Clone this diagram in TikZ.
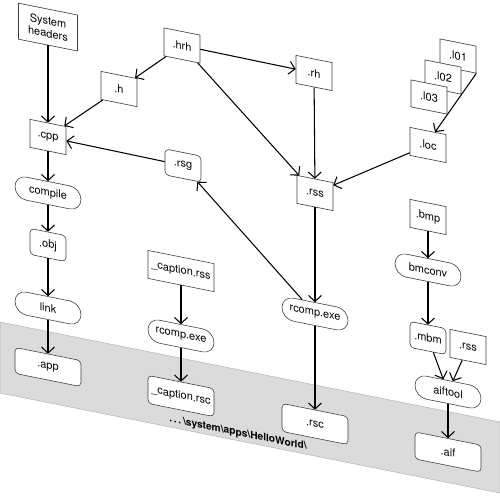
\documentclass[tikz,border=0pt]{standalone}
\usepackage{fontspec}
\setmainfont{TeX Gyre Heros}
\usetikzlibrary{arrows.meta}
\begin{document}
\begin{tikzpicture}[x=1pt,y=1pt,
  box/.style={draw=black!75, line width=0.6pt, fill=white, minimum width=36pt, minimum height=28pt, inner sep=1pt, font=\fontsize{11}{13}\selectfont, align=center},
  wbox/.style={box, minimum width=66pt},
  rbox/.style={box, rounded corners=4pt, minimum height=26pt},
  stad/.style={box, minimum width=66pt, minimum height=23pt, rounded corners=11.5pt},
  arr/.style={-{Straight Barb[length=6pt,width=13pt]}, line width=1.05pt}]
\useasboundingbox (0,0) rectangle (500,-496);
\begin{scope}[yslant=-0.2, transform shape]
  \filldraw[fill=gray!28, draw=gray!60, line width=0.5pt] (0,-322) rectangle (500,-393);
  \node[box, minimum width=59pt, minimum height=36pt] (sysh) at (48,-17.5) {System\\[-0.5pt]headers};
  \node[box] (hrh) at (182,-9.1) {.hrh};
  \node[box] (h) at (119,-65.2) {.h};
  \node[box] (cpp) at (48,-127.4) {.cpp};
  \node[rbox] (rsg) at (183,-128.9) {.rsg};
  \node[stad] (compile) at (48,-183.4) {compile};
  \node[rbox] (obj) at (48,-235.4) {.obj};
  \node[stad] (link) at (48,-298.4) {link};
  \node[rbox, minimum width=66pt] (app) at (48,-357.4) {.app};
  \node[wbox] (caprss) at (181,-234.8) {\_caption.rss};
  \node[stad] (rcompL) at (181,-299.8) {rcomp.exe};
  \node[rbox, minimum width=66pt, minimum height=28pt] (caprsc) at (181,-359.8) {\_caption.rsc};
  \node[box] (rh) at (314,-10.2) {.rh};
  \node[box] (rss) at (315,-130) {.rss};
  \node[stad] (rcompR) at (315,-251) {rcomp.exe};
  \node[rbox, minimum width=66pt, minimum height=28pt] (rsc) at (315,-361) {.rsc};
  \node[box, minimum height=27pt] (l01) at (458,35.6) {.l01};
  \node[box, minimum height=27pt] (l02) at (443,11.6) {.l02};
  \node[box, minimum height=27pt] (l03) at (429,-11.2) {.l03};
  \node[box] (loc) at (428,-59.4) {.loc};
  \node[box] (bmp) at (428,-131.4) {.bmp};
  \node[stad] (bmconv) at (428,-184.4) {bmconv};
  \node[rbox] (mbm) at (428,-252.4) {.mbm};
  \node[box] (rss2) at (468,-253.4) {.rss};
  \node[stad] (aiftool) at (448,-302.4) {aiftool};
  \node[rbox, minimum width=66pt, minimum height=27pt] (aif) at (448,-362.4) {.aif};
  \node[font=\fontsize{10.2}{12}\selectfont\bfseries, inner sep=0pt] (path) at (238,-385.5) {.\,.\,.\,\textbackslash system\textbackslash apps\textbackslash HelloWorld\textbackslash};
  \draw[arr] (sysh) -- (cpp);
  \draw[arr] (hrh) -- (h);
  \draw[arr] (h) -- (cpp);
  \draw[arr] (rsg) -- (cpp);
  \draw[arr] (hrh) -- (rh);
  \draw[arr] (hrh) -- (rss);
  \draw[arr] (rh) -- (rss);
  \draw[arr] (l01.south east) -- ([xshift=7pt]loc.north);
  \draw[arr] (loc) -- (rss);
  \draw[arr] (rss) -- (rcompR);
  \draw[arr] (rcompR) -- (rsg);
  \draw[arr] (rcompR) -- (rsc);
  \draw[arr] (cpp) -- (compile);
  \draw[arr] (compile) -- (obj);
  \draw[arr] (obj) -- (link);
  \draw[arr] (link) -- (app);
  \draw[arr] (caprss) -- (rcompL);
  \draw[arr] (rcompL) -- (caprsc);
  \draw[arr] (bmp) -- (bmconv);
  \draw[arr] (bmconv) -- (mbm);
  \draw[arr] (mbm) -- (aiftool);
  \draw[arr] (rss2) -- (aiftool);
  \draw[arr] (aiftool) -- (aif);
\end{scope}
\end{tikzpicture}
\end{document}
